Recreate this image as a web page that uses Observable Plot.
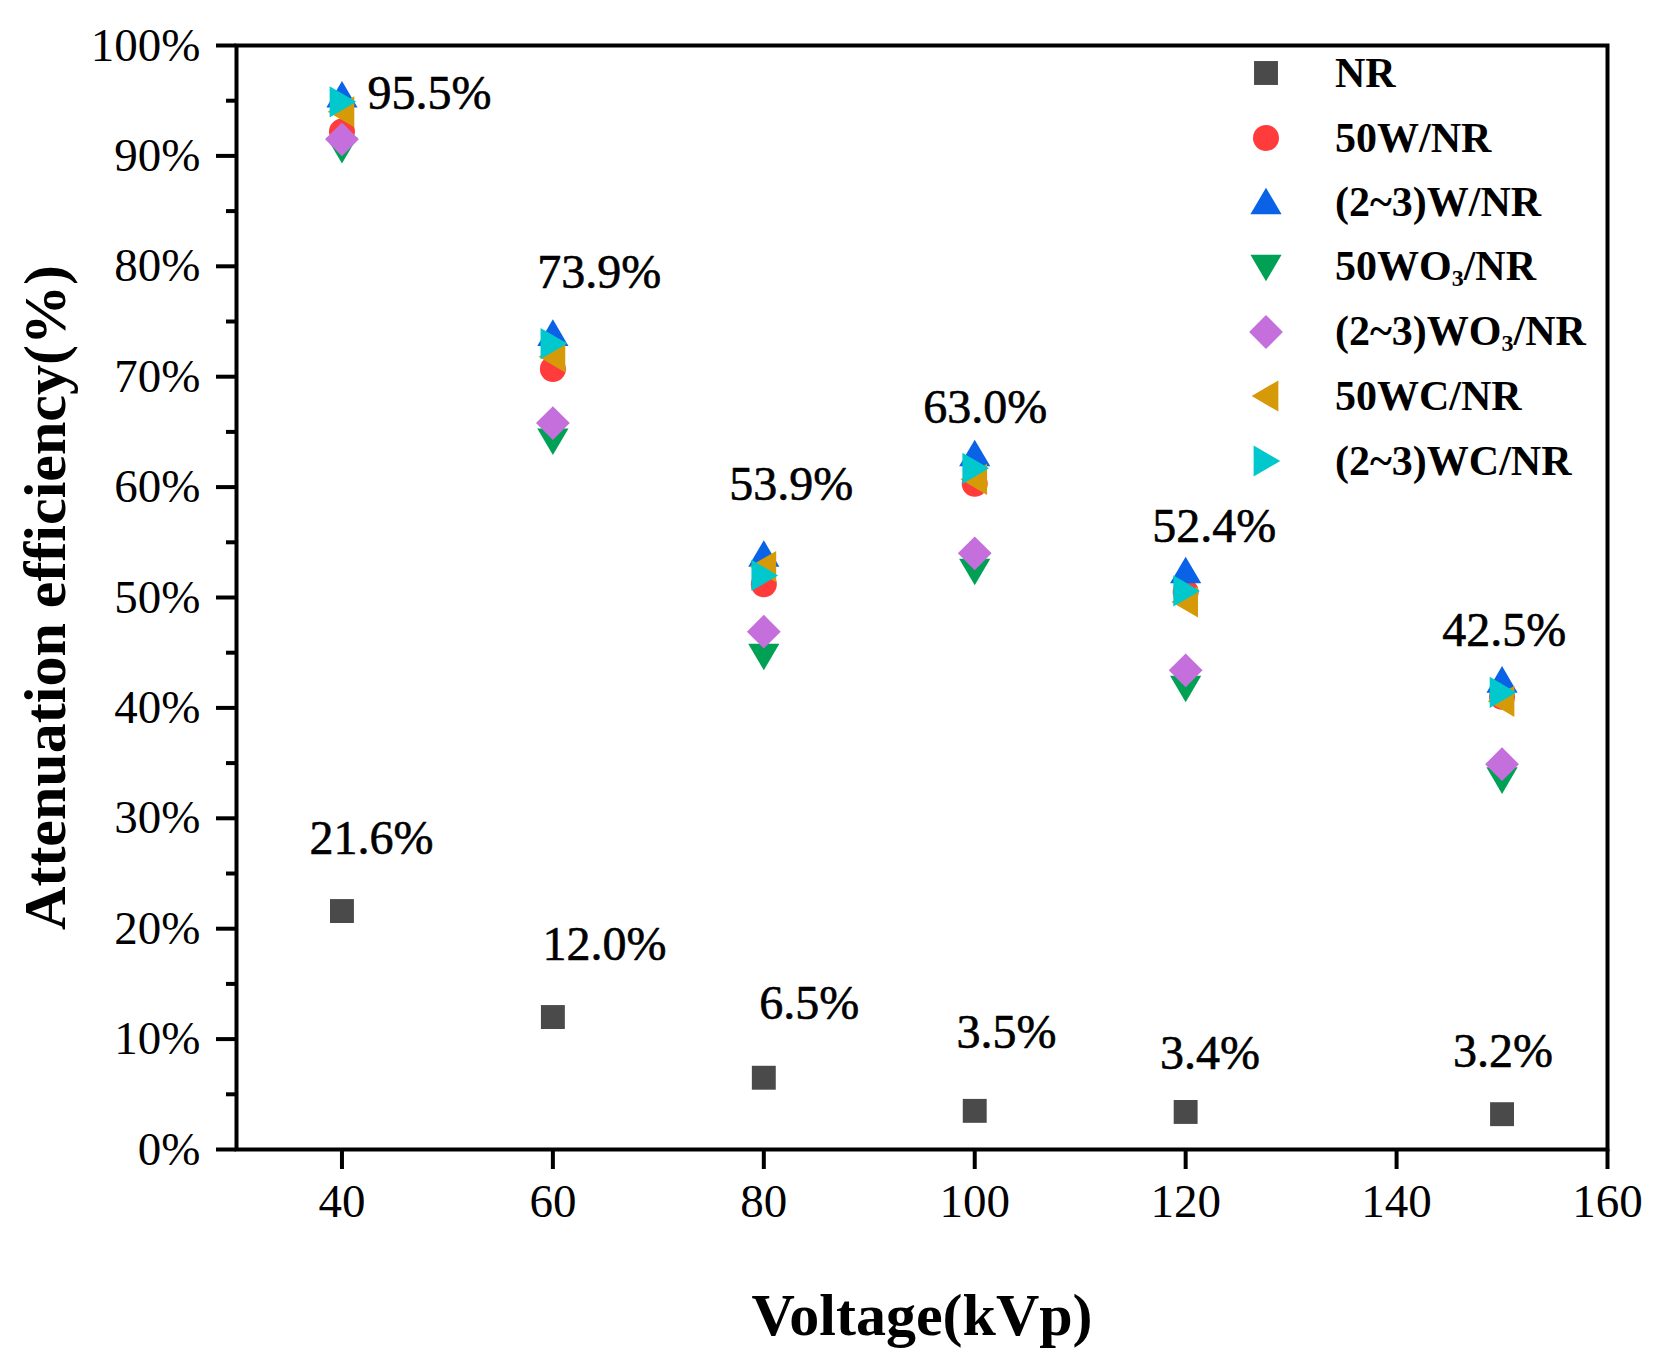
<!DOCTYPE html>
<html>
<head>
<meta charset="utf-8">
<script src="https://cdn.jsdelivr.net/npm/d3@7"></script>
<script src="https://cdn.jsdelivr.net/npm/@observablehq/plot@0.6"></script>
<style>
  body { margin: 0; background: #fff; }
  #wrap { position: relative; width: 1667px; height: 1367px; font-family: "Liberation Serif", "Times New Roman", serif; }
  #legend { position: absolute; left: 1246px; top: 41px; }
  #legend .row { display: flex; align-items: center; height: 64.6px; }
  #legend .row span { margin-left: 49px; font-size: 42px; font-weight: bold; }
  #legend sub { font-size: 24px; vertical-align: -6px; }
</style>
</head>
<body>
<div id="wrap">
  <div id="chart"></div>
  <div id="legend"></div>
</div>
<script>
// x values (kVp)
const voltage = [40, 60, 80, 100, 120, 150];

// attenuation efficiency (%) per sample
const seriesNames = ["NR", "50W/NR", "(2~3)W/NR", "50WO3/NR", "(2~3)WO3/NR", "50WC/NR", "(2~3)WC/NR"];
const nr    = [21.6, 12.0, 6.5, 3.5, 3.4, 3.2];
const w50   = [92.2, 70.7, 51.2, 60.3, 50.5, 41.0];
const w23   = [95.5, 73.9, 53.9, 63.0, 52.4, 42.5];
const wo50  = [90.6, 64.2, 44.7, 52.4, 41.8, 33.5];
const wo23  = [91.5, 65.8, 46.9, 54.0, 43.4, 34.9];
const wc50  = [94.0, 71.8, 52.8, 60.7, 49.6, 40.6];
const wc23  = [94.9, 73.0, 52.0, 61.7, 50.6, 41.4];
const seriesValues = [nr, w50, w23, wo50, wo23, wc50, wc23];
const colors = ["#4a4a4a", "#ff3b3b", "#0a62e6", "#00a055", "#c46fdc", "#d69a08", "#00c8cc"];

// annotation labels (placed in data units)
const labelText = ["95.5%", "73.9%", "53.9%", "63.0%", "52.4%", "42.5%", "21.6%", "12.0%", "6.5%", "3.5%", "3.4%", "3.2%"];
const labelX = [48.3, 64.4, 82.6, 101.0, 122.7, 150.2, 42.8, 64.9, 84.3, 103.0, 122.3, 150.1];
const labelY = [95.6, 79.4, 60.2, 67.2, 56.4, 47.0, 28.2, 18.6, 13.2, 10.6, 8.7, 8.9];

const yTicks = d3.range(0, 101, 10);
const yMinor = d3.range(5, 100, 10);
const xTicks = [40, 60, 80, 100, 120, 140, 160];

// polygon symbols scaled by r
const poly = pts => ({
  draw(ctx, size) {
    const s = Math.sqrt(size / Math.PI);
    pts.forEach(([a, b], i) => i ? ctx.lineTo(a * s, b * s) : ctx.moveTo(a * s, b * s));
    ctx.closePath();
  }
});
const symbols = [
  poly([[-0.92, -0.92], [0.92, -0.92], [0.92, 0.92], [-0.92, 0.92]]),
  d3.symbolCircle,
  poly([[0, -1.1], [1.2, 0.95], [-1.2, 0.95]]),
  poly([[0, 1.1], [1.2, -0.95], [-1.2, -0.95]]),
  poly([[0, -1.3], [1.3, 0], [0, 1.3], [-1.3, 0]]),
  poly([[-1.1, 0], [0.95, -1.2], [0.95, 1.2]]),
  poly([[1.1, 0], [-0.95, -1.2], [-0.95, 1.2]])
];
const R = 13;

const dots = seriesValues.map((vals, k) =>
  Plot.dot(vals, {x: (d, i) => voltage[i], y: d => d, r: R, symbol: symbols[k], fill: colors[k], stroke: "none"})
);

const W = 1667, ML = 236, MR = 60;

const chart = Plot.plot({
  width: W,
  height: 1367,
  marginLeft: ML,
  marginRight: MR,
  marginTop: 45,
  marginBottom: 218,
  style: {fontFamily: "'Liberation Serif', 'Times New Roman', serif", fontSize: "47px", color: "black", background: "white"},
  x: {domain: [30, 160]},
  y: {domain: [0, 100]},
  marks: [
    Plot.axisX({ticks: xTicks, tickSize: 20, tickPadding: 14, strokeWidth: 4, label: null, fontSize: 47}),
    Plot.axisY({ticks: yTicks, tickSize: 20, tickPadding: 16, strokeWidth: 4, label: null, tickFormat: d => d + "%", fontSize: 47}),
    Plot.tickY(yMinor, {y: d => d, stroke: "black", strokeWidth: 4, insetLeft: -10, insetRight: W - ML - MR}),
    Plot.frame({stroke: "black", strokeWidth: 4}),
    ...dots,
    Plot.text(labelText, {x: (d, i) => labelX[i], y: (d, i) => labelY[i], text: d => d, fontSize: 48, fill: "black", stroke: "black", strokeWidth: 0.6}),
    Plot.text(["Voltage(kVp)"], {frameAnchor: "bottom", dy: 185, text: d => d, fontSize: 60, fontWeight: "bold", fill: "black"}),
    Plot.text(["Attenuation efficiency(%)"], {frameAnchor: "left", textAnchor: "middle", dx: -191, rotate: -90, text: d => d, fontSize: 60, fontWeight: "bold", fill: "black"})
  ]
});
document.getElementById("chart").append(chart);

// legend inside the plot area
const legend = d3.select("#legend");
seriesNames.forEach((name, k) => {
  const row = legend.append("div").attr("class", "row");
  const svg = row.append("svg").attr("width", 40).attr("height", 40);
  svg.append("path")
    .attr("transform", "translate(20,20)")
    .attr("d", d3.symbol(symbols[k], R * R * Math.PI)())
    .attr("fill", colors[k]);
  row.append("span").html(name.replace("O3", "O<sub>3</sub>"));
});
</script>
</body>
</html>
